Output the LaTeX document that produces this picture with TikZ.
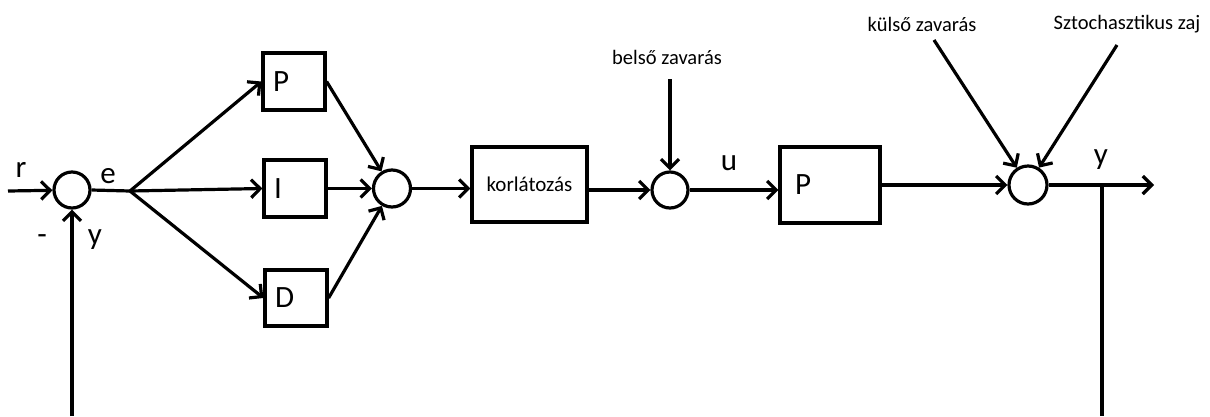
\documentclass[tikz,border=0pt]{standalone}
\usepackage{fontspec}
\setmainfont{Carlito}
\usetikzlibrary{arrows.meta}
\begin{document}
\begin{tikzpicture}[x=1pt,y=-1pt,
  line width=3.2pt,
  >={Straight Barb[length=9pt,width=18pt,line width=3.2pt]},
  sumnode/.style={draw,circle,minimum size=36pt,inner sep=0pt},
  pidbox/.style={draw,minimum height=57pt,text width=42pt,inner xsep=10pt,align=left,font=\fontsize{31}{33}\selectfont},
  biglbl/.style={inner sep=0pt,font=\fontsize{31}{33}\selectfont},
  smalllbl/.style={inner sep=0pt,font=\fontsize{20.5}{22}\selectfont},
  conn/.style={->}
]
\useasboundingbox (0,0) rectangle (1210,416);
% nodes
\node[sumnode] (s1) at (72,190) {};
\coordinate (br) at (130,191);
\node[pidbox] (P) at (294,81.5) {P};
\node[pidbox] (I) at (295,188.5) {I};
\node[pidbox,minimum height=56pt] (D) at (296,298) {D};
\node[sumnode,minimum size=37pt] (s2) at (392,188.5) {};
\node[draw,minimum width=115pt,minimum height=75pt,inner sep=0pt,font=\fontsize{21}{23}\selectfont] (k) at (529.5,184.5) {korlátozás};
\node[sumnode,minimum size=36pt] (s3) at (670,190) {};
\node[draw,minimum height=76pt,text width=70pt,inner xsep=15pt,align=left,font=\fontsize{31}{33}\selectfont] (P2) at (830,185) {P};
\node[sumnode,minimum size=38pt] (s4) at (1028,185) {};
% labels
\node[biglbl] (lr) at (21,170) {r};
\node[biglbl] (le) at (108,176) {e};
\node[biglbl] (lminus) at (42,240) {-};
\node[biglbl] (ly1) at (95,240) {y};
\node[biglbl] (lu) at (729,163) {u};
\node[biglbl] (ly2) at (1101,160) {y};
\node[smalllbl] (lb) at (667,57) {belső zavarás};
\node[smalllbl] (lk) at (922,24) {külső zavarás};
\node[smalllbl] (lz) at (1127,24) {Sztochasztikus zaj};
% free-end coordinates
\coordinate (in) at (8,191);
\coordinate (out) at (1154,185);
\coordinate (fb) at (1102,185);
\coordinate (fbb) at (1102,416);
\coordinate (fbl) at (72,416);
\coordinate (bz) at (670,79);
\coordinate (kz) at (934,40);
\coordinate (sz) at (1117,45);
% connectors
\draw[conn] (in) -- (s1);
\draw (s1.east) -- (br);
\draw[conn] (br) -- (P.west);
\draw[conn] (br) -- (I.west);
\draw[conn] (br) -- (D.west);
\draw[conn] (P.east) -- (s2);
\draw[conn] (I.east) -- (s2.west);
\draw[conn] (D.east) -- (s2);
\draw[conn] (s2.east) -- (s2.east -| k.west);
\draw[conn] (k.east |- s3.west) -- (s3.west);
\draw[conn] (bz) -- (s3.north);
\draw[conn] (s3.east) -- (s3.east -| P2.west);
\draw[conn] (P2.east |- s4.west) -- (s4.west);
\draw[conn] (kz) -- (s4);
\draw[conn] (sz) -- (s4);
\draw[conn] (s4.east) -- (out);
\draw (fb) -- (fbb);
\draw[conn] (fbl) -- (s1.south);
\end{tikzpicture}
\end{document}
